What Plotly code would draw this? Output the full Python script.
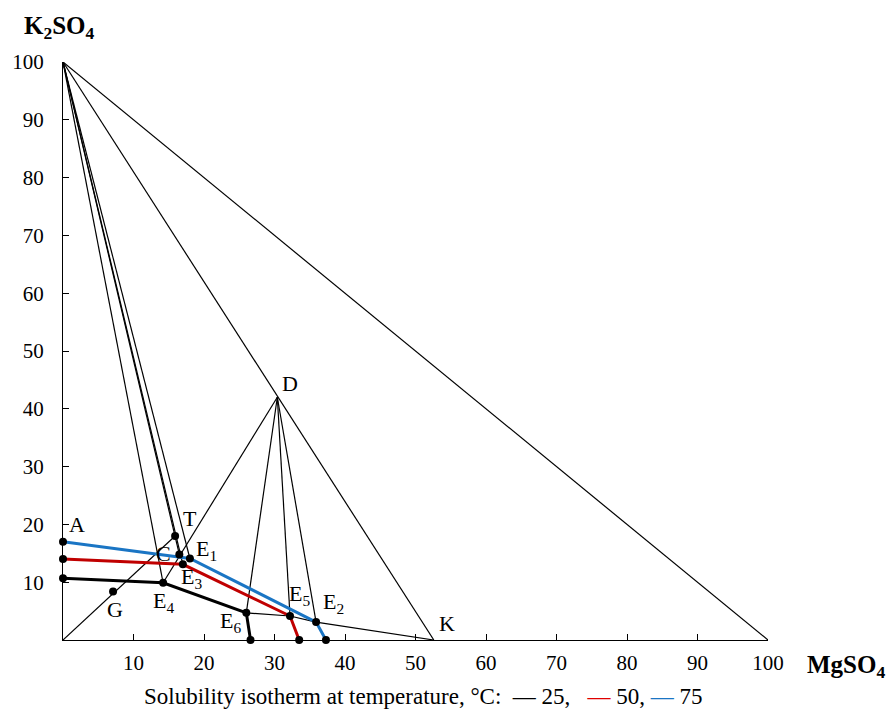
import plotly.graph_objects as go

# Key points (MgSO4 %, K2SO4 %)
pt_names = ["O", "S", "M", "K", "D", "A", "P", "V", "G", "T", "C",
            "E1", "E3", "E4", "E6", "E5", "E2", "F", "B", "N"]
pt_x = [0, 0, 100, 52.6, 30.4, 0, 0, 0, 7.1, 15.9, 16.5,
        18.0, 17.0, 14.2, 26.0, 32.2, 35.9, 26.6, 33.5, 37.3]
pt_y = [0, 100, 0, 0, 42.0, 17.0, 14.0, 10.7, 8.4, 18.0, 14.8,
        14.1, 13.1, 9.9, 4.7, 4.15, 3.1, 0, 0, 0]

# Isotherms
iso25_pts = ["V", "E4", "E6", "F"]
iso50_pts = ["P", "E3", "E5", "B"]
iso75_pts = ["A", "E1", "E2", "N"]

# Construction lines (thin)
thin_lines = [["S", "M"], ["S", "K"], ["D", "E4"], ["D", "E6"], ["D", "E5"], ["D", "E2"],
              ["S", "E4"], ["S", "C"], ["S", "E3"], ["S", "E1"], ["O", "T"],
              ["E6", "E5", "E2", "K"]]

marked = ["A", "P", "V", "G", "T", "C", "E1", "E3", "E4", "E6", "E5", "E2", "F", "B", "N"]

# Label text and positions
lab_text = ["S", "A", "P", "V", "G", "C", "T", "E<sub>1</sub>", "E<sub>3</sub>", "E<sub>4</sub>",
            "E<sub>6</sub>", "E<sub>5</sub>", "E<sub>2</sub>", "F", "B", "N", "K", "M", "D"]
lab_x = [2.8, 2.0, -1.8, -1.6, 7.4, 14.2, 18.0, 20.4, 18.2, 14.3,
         23.7, 33.6, 38.3, 27.0, 33.6, 37.4, 54.5, 102.6, 32.2]
lab_y = [101.2, 19.9, 15.2, 10.7, 5.2, 15.0, 21.1, 15.6, 10.7, 6.6,
         3.1, 7.8, 6.4, -2.9, -2.9, -2.9, 2.8, 1.2, 44.3]

ticks = [10, 20, 30, 40, 50, 60, 70, 80, 90, 100]

P = {n: (x, y) for n, x, y in zip(pt_names, pt_x, pt_y)}
FONT = "Liberation Serif"

fig = go.Figure()

for ln in thin_lines:
    fig.add_trace(go.Scatter(x=[P[n][0] for n in ln], y=[P[n][1] for n in ln],
                             mode="lines", line=dict(color="black", width=1.2),
                             cliponaxis=False, showlegend=False, hoverinfo="skip"))

for pts, col in [(iso25_pts, "black"), (iso50_pts, "#C00000"), (iso75_pts, "#1A75C4")]:
    fig.add_trace(go.Scatter(x=[P[n][0] for n in pts], y=[P[n][1] for n in pts],
                             mode="lines", line=dict(color=col, width=3),
                             cliponaxis=False, showlegend=False))

fig.add_trace(go.Scatter(x=[P[n][0] for n in marked], y=[P[n][1] for n in marked],
                         mode="markers", marker=dict(color="black", size=8),
                         cliponaxis=False, showlegend=False))

for t, x, y in zip(lab_text, lab_x, lab_y):
    fig.add_annotation(x=x, y=y, text=t, showarrow=False, xref="x", yref="y",
                       xanchor="center", yanchor="middle",
                       font=dict(family=FONT, size=22, color="black"))

fig.add_annotation(xref="paper", yref="paper", x=-0.005, y=1.06, text="<b>K<sub>2</sub>SO<sub>4</sub></b>",
                   xanchor="center", yanchor="middle",
                   showarrow=False, font=dict(family=FONT, size=25, color="black"))
fig.add_annotation(xref="paper", yref="paper", x=1.11, y=-0.045, text="<b>MgSO<sub>4</sub></b>",
                   xanchor="center", yanchor="middle",
                   showarrow=False, font=dict(family=FONT, size=25, color="black"))

legend_text = ("Solubility isotherm at temperature, °C:&nbsp; <span style='color:black'>—</span>&nbsp;25,&nbsp;&nbsp; "
               "<span style='color:#E00000'>—</span>&nbsp;50,&nbsp;<span style='color:#1A75C4'>—</span>&nbsp;75")
fig.add_annotation(xref="paper", yref="paper", x=0.512, y=-0.098, text=legend_text,
                   xanchor="center", yanchor="middle",
                   showarrow=False, font=dict(family=FONT, size=23, color="black"))

axis_common = dict(range=[0, 100], tickvals=ticks, ticktext=[str(t) for t in ticks],
                   showgrid=False, zeroline=False, showline=True, linecolor="black",
                   linewidth=1.3, ticks="inside", ticklen=6, tickcolor="black",
                   tickfont=dict(family=FONT, size=21, color="black"))

fig.update_layout(
    width=893, height=723,
    margin=dict(l=63, r=125, t=62, b=83),
    plot_bgcolor="white", paper_bgcolor="white",
    xaxis=dict(**axis_common, ticklabelstandoff=4),
    yaxis=dict(**axis_common, ticklabelstandoff=14),
    showlegend=False,
)

fig.write_html("out.html")
